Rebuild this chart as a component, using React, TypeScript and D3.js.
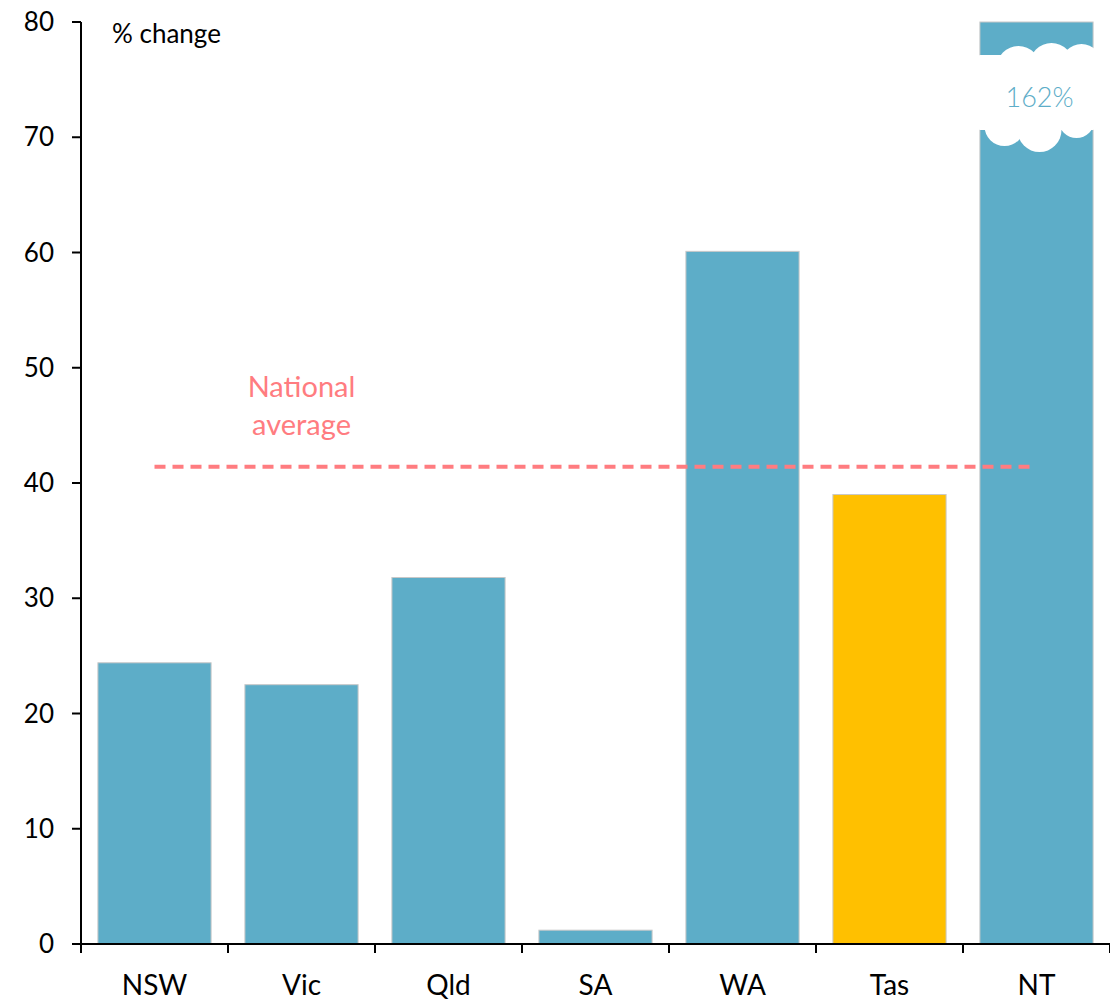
import React from 'react';
import * as d3 from 'd3';

const states = ['NSW', 'Vic', 'Qld', 'SA', 'WA', 'Tas', 'NT'];
const changes = [24.4, 22.5, 31.8, 1.2, 60.1, 39.0, 162];
const highlight = ['Tas'];
const yTicks = [0, 10, 20, 30, 40, 50, 60, 70, 80];
const nationalAverage = 41.4;
const outlierLabel = '162%';

const W = 1110;
const H = 1002;
const margin = { top: 22, right: 0, bottom: 58, left: 81 };
const FONT = 'Lato, "Open Sans", sans-serif';
const BLUE = '#5DADC8';
const GOLD = '#FFC000';
const RED = '#FF7C80';

const App = () => {
  const x = d3.scaleBand<string>().domain(states).range([margin.left, W - margin.right]).paddingInner(0.23).paddingOuter(0.115);
  const y = d3.scaleLinear().domain([0, 80]).range([H - margin.bottom, margin.top]);
  const y0 = y(0);
  const step = x.step();
  const bw = x.bandwidth();
  const boundaries = d3.range(states.length + 1).map(i => margin.left + i * step);

  // cloud over the clipped outlier bar
  const nt = states[states.length - 1];
  const cx = (x(nt) as number) + bw / 2;
  const cy = y(73.4);
  const cloudCircles = [
    [-18, -30, 22], [15, -33, 22], [45, -33, 21],
    [-32, 28, 20], [3, 32, 22], [40, 22, 18],
  ];

  const avgX1 = (x(states[0]) as number) + bw / 2;
  const avgX2 = cx;
  const avgMid = (x(states[1]) as number) + bw / 2;

  return (
    <svg width={W} height={H} style={{ position: 'absolute', left: 0, top: 0, background: '#fff' }} fontFamily={FONT}>
      {states.map((s, i) => {
        const v = Math.min(changes[i], 80);
        return (
          <rect key={s} x={x(s)} y={y(v)} width={bw} height={y0 - y(v)}
            fill={highlight.includes(s) ? GOLD : BLUE} stroke="#c8c8c8" strokeWidth={1} />
        );
      })}

      <g fill="#fff">
        <rect x={cx - 62} y={cy - 43} width={124} height={75} rx={6} />
        {cloudCircles.map(([dx, dy, r], i) => (
          <circle key={i} cx={cx + dx} cy={cy + dy} r={r} />
        ))}
      </g>
      <text x={cx + 3} y={cy + 9} textAnchor="middle" fontSize={27} fontWeight={300} fill={BLUE}>{outlierLabel}</text>

      <line x1={avgX1} x2={avgX2} y1={y(nationalAverage)} y2={y(nationalAverage)}
        stroke={RED} strokeWidth={4} strokeDasharray="11,7" />
      <text x={avgMid} y={y(nationalAverage) - 70} textAnchor="middle" fontSize={29} fill={RED}>
        <tspan x={avgMid} dy={0}>National</tspan>
        <tspan x={avgMid} dy={38}>average</tspan>
      </text>

      {/* y axis */}
      <line x1={margin.left} x2={margin.left} y1={margin.top} y2={y0 + 9} stroke="#000" strokeWidth={2} />
      {yTicks.map(t => (
        <g key={t}>
          <line x1={margin.left - 9} x2={margin.left} y1={y(t)} y2={y(t)} stroke="#000" strokeWidth={2} />
          <text x={margin.left - 27} y={y(t) + 9} textAnchor="end" fontSize={26} fill="#000">{t}</text>
        </g>
      ))}
      <text x={112} y={43} fontSize={26} fill="#000">% change</text>

      {/* x axis */}
      <line x1={margin.left - 9} x2={W} y1={y0} y2={y0} stroke="#000" strokeWidth={2} />
      {boundaries.slice(1).map((b, i) => (
        <line key={i} x1={b} x2={b} y1={y0} y2={y0 + 9} stroke="#000" strokeWidth={2} />
      ))}
      {states.map(s => (
        <text key={s} x={(x(s) as number) + bw / 2} y={995} textAnchor="middle" fontSize={28} fill="#000">{s}</text>
      ))}
    </svg>
  );
};

export default App;
